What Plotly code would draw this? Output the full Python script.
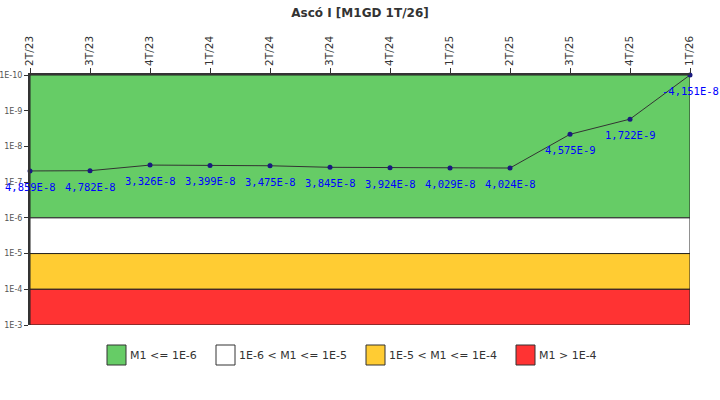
import math
import plotly.graph_objects as go

categories = ["2T/23", "3T/23", "4T/23", "1T/24", "2T/24", "3T/24",
              "4T/24", "1T/25", "2T/25", "3T/25", "4T/25", "1T/26"]
values = [4.859e-8, 4.782e-8, 3.326e-8, 3.399e-8, 3.475e-8, 3.845e-8,
          3.924e-8, 4.029e-8, 4.024e-8, 4.575e-9, 1.722e-9, -4.151e-8]

y_ticks = [1e-10, 1e-9, 1e-8, 1e-7, 1e-6, 1e-5, 1e-4, 1e-3]
y_ticktext = ["1E-10", "1E-9", "1E-8", "1E-7", "1E-6", "1E-5", "1E-4", "1E-3"]

bands = [(1e-10, 1e-6, "#66cc66", "M1 <= 1E-6"),
         (1e-6, 1e-5, "#ffffff", "1E-6 < M1 <= 1E-5"),
         (1e-5, 1e-4, "#ffcc33", "1E-5 < M1 <= 1E-4"),
         (1e-4, 1e-3, "#ff3333", "M1 > 1E-4")]

y_min = 1e-10


def fmt(v):
    s = f"{v:.3E}"
    mant, exp = s.split("E")
    return mant.replace(".", ",") + "E" + str(int(exp))


xs = list(range(len(categories)))
plot_y = [max(v, y_min) for v in values]
labels = [fmt(v) for v in values]

fig = go.Figure()
fig.add_trace(go.Scatter(
    x=xs, y=plot_y, mode="lines+markers",
    line=dict(color="#333333", width=1),
    marker=dict(color="#1a1a80", size=5),
    showlegend=False, cliponaxis=False, hoverinfo="skip"))

shapes = []
for lo, hi, col, _ in bands:
    shapes.append(dict(type="rect", xref="x", yref="y", x0=0, x1=11,
                       y0=lo, y1=hi, fillcolor=col,
                       line=dict(color="#222222", width=1), layer="below"))

annotations = []
for x, y, t in zip(xs, plot_y, labels):
    annotations.append(dict(x=x, y=math.log10(y), xref="x", yref="y", text=t,
                            showarrow=False, xanchor="center", yanchor="middle",
                            yshift=-16,
                            font=dict(family="DejaVu Sans Mono", size=10.5,
                                      color="#0000ff")))

legend_x = [107, 216, 366, 516]
for (lo, hi, col, name), lx in zip(bands, legend_x):
    shapes.append(dict(type="rect", xref="paper", yref="paper",
                       x0=(lx - 30) / 660, x1=(lx - 30 + 19) / 660,
                       y0=(325 - 365) / 250, y1=(325 - 345) / 250,
                       fillcolor=col, line=dict(color="#333333", width=1)))
    annotations.append(dict(xref="paper", yref="paper",
                            x=(lx - 30 + 21) / 660, y=(325 - 355) / 250,
                            text=name, showarrow=False, xanchor="left",
                            yanchor="middle",
                            font=dict(family="DejaVu Sans", size=11, color="#333333")))

fig.update_layout(
    width=720, height=400,
    margin=dict(l=30, r=30, t=75, b=75),
    paper_bgcolor="white", plot_bgcolor="white",
    title=dict(text="<b>Ascó I [M1GD 1T/26]</b>", x=0.5, y=0.978,
               xanchor="center", yanchor="top",
               font=dict(family="DejaVu Sans", size=12, color="#333333")),
    shapes=shapes, annotations=annotations,
    xaxis=dict(side="top", range=[0, 11], tickvals=xs, ticktext=categories,
               tickangle=-90, ticks="outside", ticklen=5, tickcolor="#333333",
               showline=True, linecolor="#333333", linewidth=2,
               showgrid=False, zeroline=False, automargin=False,
               tickfont=dict(family="DejaVu Sans", size=10.5, color="#333333")),
    yaxis=dict(type="log", range=[-3, -10], tickvals=y_ticks, ticktext=y_ticktext,
               ticks="outside", ticklen=4, tickcolor="#333333",
               showline=True, linecolor="#333333", linewidth=2,
               showgrid=False, zeroline=False, automargin=False,
               tickfont=dict(family="DejaVu Sans", size=8, color="#555555")),
)

fig.write_html("out.html")
